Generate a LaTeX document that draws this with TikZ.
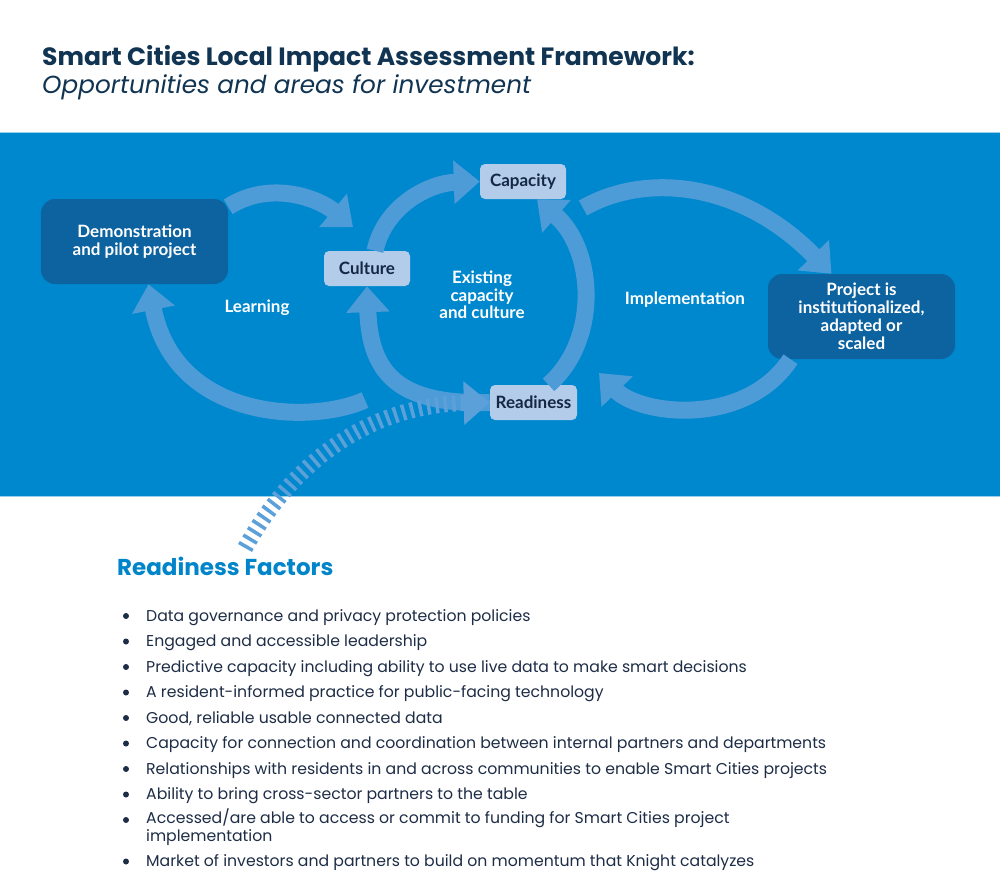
\documentclass[tikz,border=0pt]{standalone}
\usepackage{fontspec}
\setmainfont{Poppins}
\newfontfamily\boxfont{Lato}
\usepackage{tikz}
\usetikzlibrary{arrows.meta}
\definecolor{bandblue}{RGB}{0,136,206}
\definecolor{arrowblue}{RGB}{77,155,215}
\definecolor{dashblue}{RGB}{92,160,218}
\definecolor{boxdark}{RGB}{12,99,160}
\definecolor{boxlight}{RGB}{178,204,234}
\definecolor{boxtext}{RGB}{20,40,68}
\definecolor{titlenavy}{RGB}{16,52,82}
\definecolor{listnavy}{RGB}{30,45,70}
\definecolor{headblue}{RGB}{0,133,202}

\begin{document}
\begin{tikzpicture}[x=1bp,y=-1bp,
  darkbox/.style={fill=boxdark,rounded corners=14bp,text=white,align=center,minimum width=187bp,minimum height=85bp,font=\boxfont\bfseries\fontsize{17bp}{18bp}\selectfont},
  lightbox/.style={fill=boxlight,rounded corners=5bp,text=boxtext,minimum width=86bp,minimum height=35bp,font=\boxfont\bfseries\fontsize{17bp}{18bp}\selectfont},
  looptext/.style={text=white,align=center,font=\boxfont\bfseries\fontsize{17bp}{17.5bp}\selectfont},
  looparrow/.style={draw=arrowblue,line width=17bp,-{Triangle[width=42bp,length=26bp]}},
  readyarrow/.style={draw=dashblue,line width=16bp,dash pattern=on 3.5bp off 5bp,-{Triangle[width=42bp,length=26bp,fill=dashblue]}},
  factor/.style={anchor=base west,text=listnavy,font=\fontsize{15.7bp}{16bp}\selectfont,align=left}]
%\draw[help lines](0,0)grid[step=50](1000,893);
\useasboundingbox[fill=white] (0,0) rectangle (1000,893);

% title
\node[anchor=base west,inner sep=0,text=titlenavy,font=\bfseries\fontsize{25bp}{27bp}\selectfont] (title) at (42,65) {Smart Cities Local Impact Assessment Framework:};
\node[anchor=base west,inner sep=0,text=titlenavy,font=\itshape\fontsize{24.7bp}{27bp}\selectfont] (subtitle) at (42,93) {Opportunities and areas for investment};

% blue band
\fill[bandblue] (0,132) rectangle (1000,496);
\draw[white!60!bandblue,line width=1bp] (0,132)--(1000,132) (0,496)--(1000,496);

% boxes
\node[darkbox] (demo) at (134.5,241.5) {Demonstration\\and pilot project};
\node[darkbox] (project) at (861.5,316.5) {Project is\\institutionalized,\\adapted or\\scaled};
\node[lightbox] (culture) at (367,268.5) {Culture};
\node[lightbox] (capacity) at (523,181.5) {Capacity};
\node[lightbox,minimum width=87bp] (readiness) at (533.5,402.5) {Readiness};

\node[looptext] (learning) at (257,308) {Learning};
\node[looptext] (existing) at (482,295) {Existing\\capacity\\and culture};
\node[looptext] (implementation) at (685,300) {Implementation};

% loops
\coordinate (learnin) at (353,227);
\coordinate (learnout) at (365,400);
\coordinate (implout) at (583,208);
\coordinate (implin) at (599,373);
\coordinate (factorsout) at (245,548);

\draw[looparrow] ([yshift=-8bp]demo.north east) .. controls (270,180) and (318,198) .. (learnin);
\draw[looparrow] (learnout) .. controls (310,425) and (175,420) .. ([xshift=14bp]demo.south);
\draw[looparrow] ([xshift=8bp]culture.north) .. controls (385,205) and (430,183) .. (capacity.west);
\draw[looparrow] (readiness.west) .. controls (400,405) and (370,375) .. (culture.south);
\draw[looparrow] ([xshift=15bp]readiness.north) .. controls (600,340) and (595,250) .. ([xshift=14bp]capacity.south);
\draw[looparrow] (implout) .. controls (650,170) and (745,185) .. ([xshift=-30bp]project.north);
\draw[looparrow] ([xshift=-71bp]project.south) .. controls (745,428) and (640,415) .. (implin);
\draw[readyarrow] (factorsout) .. controls (300,450) and (380,405) .. (readiness.west);

% readiness factors
\node[anchor=base west,inner sep=0,text=headblue,font=\bfseries\fontsize{23bp}{25bp}\selectfont] (factors) at (117,575) {Readiness Factors};
\foreach \b/\y/\t [count=\i] in {616/621/{Data governance and privacy protection policies},
  641.5/646.5/{Engaged and accessible leadership},
  667/672/{Predictive capacity including ability to use live data to make smart decisions},
  692.5/697.5/{A resident-informed practice for public-facing technology},
  718/723/{Good, reliable usable connected data},
  743.5/748.5/{Capacity for connection and coordination between internal partners and departments},
  769/774/{Relationships with residents in and across communities to enable Smart Cities projects},
  794.5/799.5/{Ability to bring cross-sector partners to the table},
  820/841/{Accessed/are able to access or commit to funding for Smart Cities project\\implementation},
  861.5/866.5/{Market of investors and partners to build on momentum that Knight catalyzes}}
{
  \fill[listnavy] (126,\b) circle (3bp);
  \node[factor,inner sep=0] (item\i) at (146,\y) {\t};
}
\end{tikzpicture}
\end{document}
